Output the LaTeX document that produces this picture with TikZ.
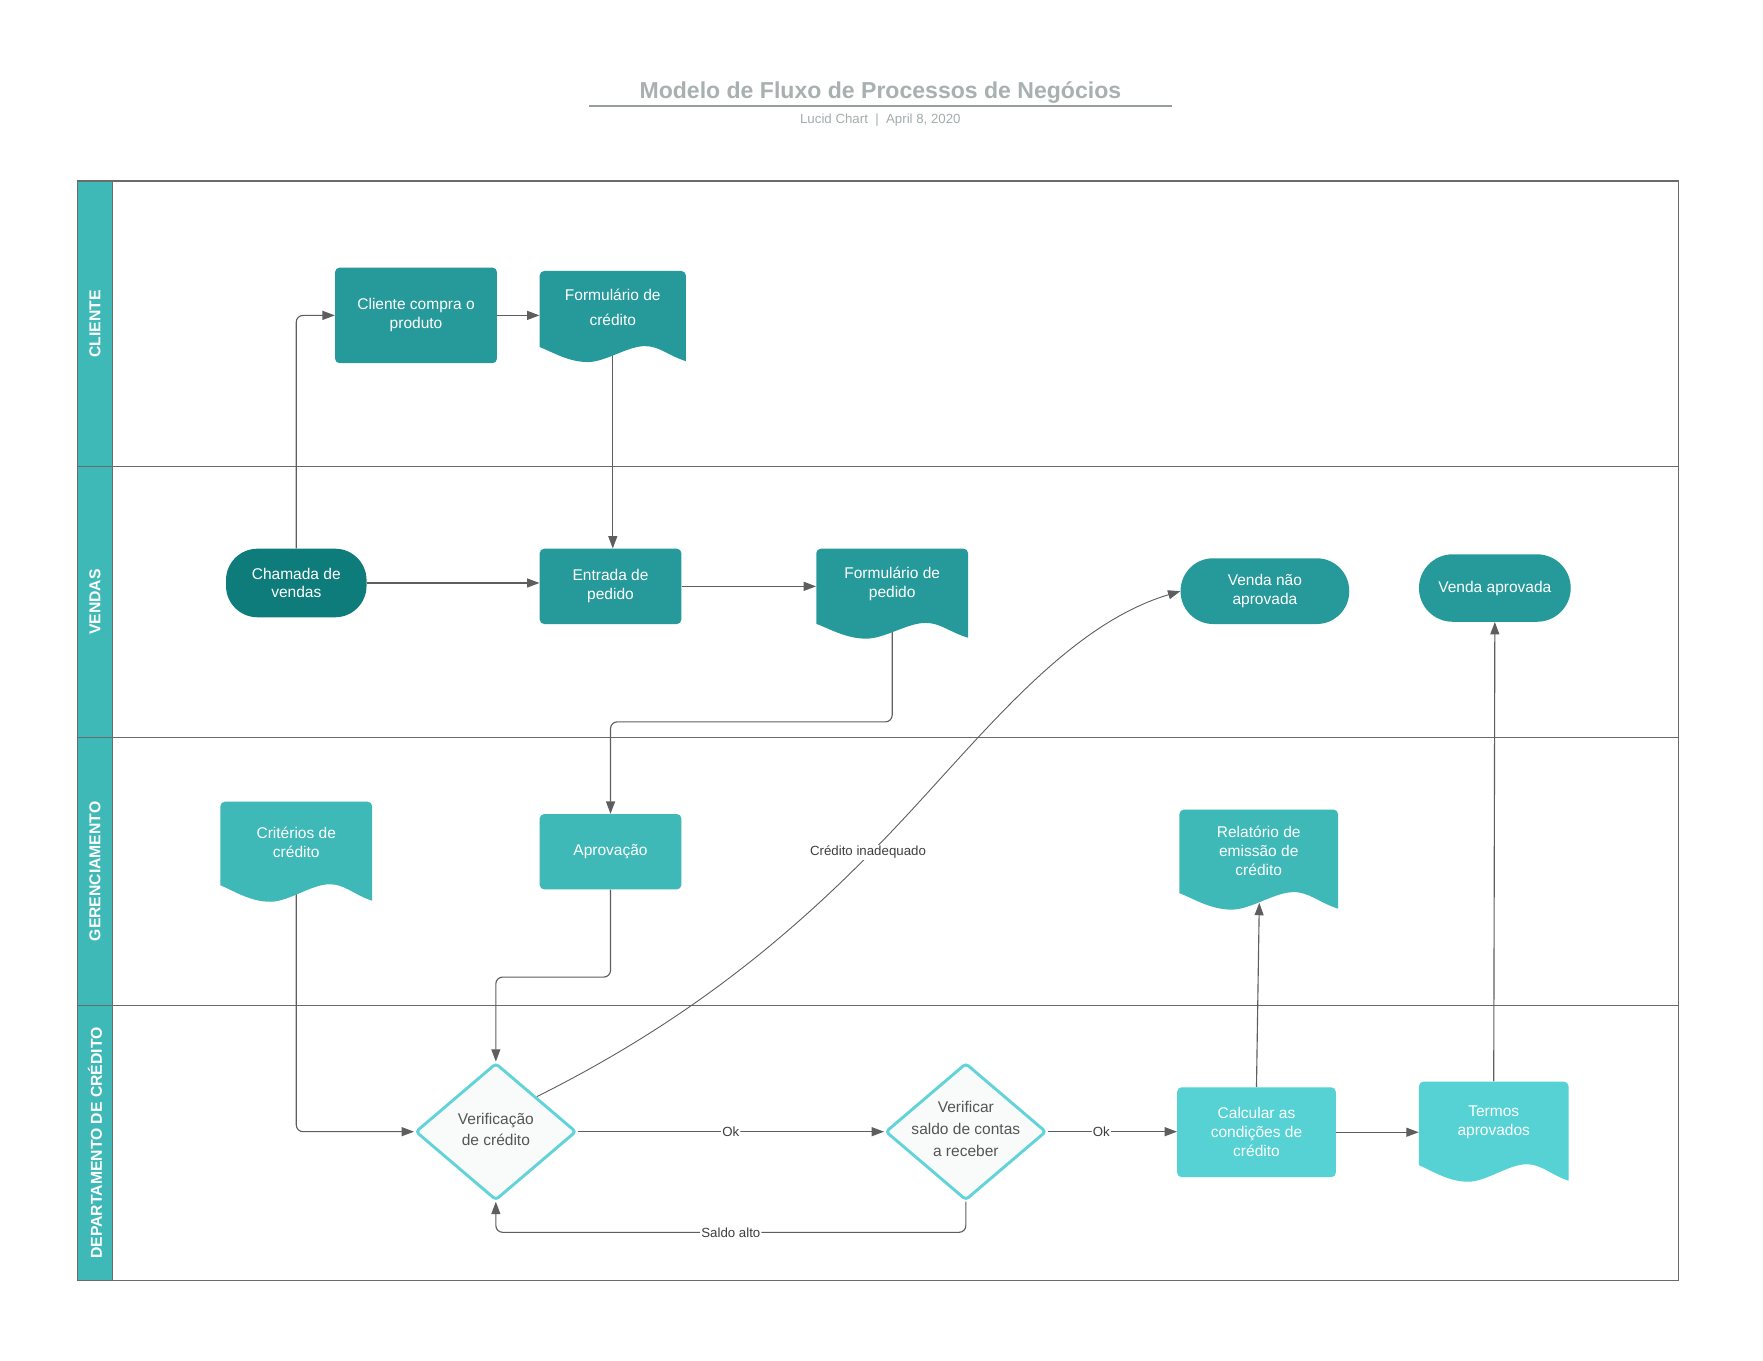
\documentclass[tikz,border=0pt]{standalone}
\usepackage{fontspec}
\setmainfont{Liberation Sans}
\usetikzlibrary{shapes.geometric,arrows.meta}
\pgfdeclarelayer{bg}
\pgfsetlayers{bg,main}
\definecolor{tdark}{HTML}{0E7C7B}
\definecolor{tmid}{HTML}{26999A}
\definecolor{tlight}{HTML}{3FB8B8}
\definecolor{tpale}{HTML}{56D2D4}
\definecolor{dstroke}{HTML}{62D3D9}
\definecolor{dfill}{HTML}{F9FBFB}
\definecolor{lineg}{HTML}{5E5E5E}
\definecolor{poolg}{HTML}{6B6B6B}
\definecolor{titleg}{HTML}{A9B0B0}
\definecolor{subg}{HTML}{A3ADAD}
\definecolor{lblg}{HTML}{3F3F3F}
\definecolor{dtext}{HTML}{555555}
\newcommand\fs[2]{\fontsize{#1}{#2}\selectfont}
% document shape: color, L, T, R, B
\newcommand\docshape[5]{%
  \fill[#1] (#2,{#3+0.835*(#5-#3)}) [rounded corners=4pt]-- (#2,#3) -- (#4,#3) [sharp corners]-- (#4,{#3+0.99*(#5-#3)})
   .. controls ({#2+0.88*(#4-#2)},{#3+0.93*(#5-#3)}) and ({#2+0.82*(#4-#2)},{#3+0.825*(#5-#3)}) .. ({#2+0.72*(#4-#2)},{#3+0.825*(#5-#3)})
   .. controls ({#2+0.6*(#4-#2)},{#3+0.825*(#5-#3)}) and ({#2+0.45*(#4-#2)},{#3+(#5-#3)}) .. ({#2+0.33*(#4-#2)},{#3+(#5-#3)})
   .. controls ({#2+0.2*(#4-#2)},{#3+(#5-#3)}) and ({#2+0.1*(#4-#2)},{#3+0.9*(#5-#3)}) .. cycle;}
% name, fill, L, T, R, B, text y, text
\newcommand\docnode[8]{%
  \docshape{#2}{#3}{#4}{#5}{#6}
  \node[inner sep=0, minimum width={(#5-#3)*1pt}, minimum height={(#6-#4)*1pt}] (#1) at ({(#3+#5)/2},{(#4+#6)/2}) {};
  \node[txt] (#1-t) at ({(#3+#5)/2},#7) {#8};}
\tikzset{
  txt/.style={align=center, text=white, font=\fs{13.8}{16.8}, inner sep=0},
  box/.style={txt, rounded corners=4pt, fill=tmid},
  dia/.style={diamond, draw=dstroke, fill=dfill, line width=2.6pt, rounded corners=3pt, inner sep=0},
  dtxt/.style={align=center, text=dtext, font=\fs{13.8}{19.2}, inner sep=0},
  conn/.style={draw=lineg, line width=1pt, rounded corners=6pt, -{Triangle[length=11pt,width=8pt]}},
  lbl/.style={fill=white, text=lblg, font=\fs{11.8}{14}, inner sep=1pt},
  lane/.style={rotate=90, text=white, font=\bfseries\fs{14}{16}},
}
\begin{document}
\begin{tikzpicture}[x=1pt,y=-1pt]
\useasboundingbox (0,0) rectangle (1568,1210);
% title
\node[text=titleg, font=\bfseries\fs{20.5}{24}] (title) at (783,82) {Modelo de Fluxo de Processos de Negócios};
\draw[draw=titleg!90!black, line width=1.6pt] (524,94) -- (1042,94);
\node[text=subg, font=\fs{11.8}{13}] (sub) at (783,106.5) {Lucid Chart\ \ |\ \ April 8, 2020};

% nodes
\node[box, fill=tmid, minimum width=144pt, minimum height=85pt] (cc) at (370,280.5) {Cliente compra o\\produto};
\docnode{fc}{tmid}{480}{241}{610}{322}{273.5}{Formulário de\\[6pt]crédito}
\node[box, fill=tdark, rounded corners=28pt, minimum width=125pt, minimum height=61pt] (cv) at (263.5,518.5) {Chamada de\\vendas};
\node[box, fill=tmid, minimum width=126pt, minimum height=67pt] (ep) at (543,521.5) {Entrada de\\pedido};
\docnode{fp}{tmid}{726}{488}{861}{568}{519}{Formulário de\\pedido}
\node[box, fill=tmid, rounded corners=29pt, minimum width=150pt, minimum height=58.5pt] (vn) at (1125,525.75) {Venda não\\aprovada};
\node[box, fill=tmid, rounded corners=30pt, minimum width=135pt, minimum height=60pt] (va) at (1329.5,523) {Venda aprovada};
\docnode{cr}{tlight}{196}{713}{331}{802}{749}{Critérios de\\crédito}
\node[box, fill=tlight, minimum width=126pt, minimum height=67pt] (ap) at (543,757.5) {Aprovação};
\docnode{rel}{tlight}{1049}{720}{1190}{809}{756.5}{Relatório de\\emissão de\\crédito}
\node[dia, minimum width=143pt, minimum height=122pt] (vc) at (441,1006.5) {};
\node[dtxt] (vc-t) at (441,1004.5) {Verificação\\de crédito};
\node[dia, minimum width=143pt, minimum height=122pt] (vs) at (859,1006.5) {};
\node[dtxt] (vs-t) at (859,1004) {Verificar\\saldo de contas\\a receber};
\node[box, fill=tpale, minimum width=141pt, minimum height=80pt] (cal) at (1117.5,1007) {Calcular as\\condições de\\crédito};
\docnode{ta}{tpale}{1262}{962}{1395}{1051}{998}{Termos\\aprovados}
\coordinate (rel-b) at (1120,803);
\coordinate (cim) at (770,763);

\begin{pgfonlayer}{bg}
\fill[white] (0,0) rectangle (1568,1210);
% pool
\draw[poolg, line width=1pt] (69,161) rectangle (1493,1139);
\draw[poolg, line width=1pt, fill=tlight] (69,161) rectangle (100,1139);
\foreach \yy in {415,656,894} \draw[poolg, line width=1pt] (69,\yy) -- (1493,\yy);
\node[lane] (l1) at (84.5,288) {CLIENTE};
\node[lane] (l2) at (84.5,535.5) {VENDAS};
\node[lane] (l3) at (84.5,775) {GERENCIAMENTO};
\node[lane] (l4) at (84.5,1016.5) {DEPARTAMENTO DE CRÉDITO};
% connectors
\draw[conn] (cv.north) |- (cc.west);
\draw[conn] (cc.east) -- (cc.east -| fc.west);
\draw[conn] (fc.center) -- (fc.center |- ep.north);
\draw[conn] (cv.east) -- (cv.east -| ep.west);
\draw[conn] (ep.east) -- (ep.east -| fp.west);
\draw[conn] (fp.center) -- (fp.center |- 0,642) -| (ap.north);
\draw[conn] (ap.south) -- (ap.south |- 0,869) -| (vc.north);
\draw[conn] (cr.center) |- (vc.west);
\draw[conn] (vc.east) -- (vs.west) node[lbl, pos=0.5] {Ok};
\draw[conn] (vs.south) -- (vs.south |- 0,1096) -- (vc.south |- 0,1096) node[lbl, pos=0.5] {Saldo alto} -- (vc.south);
\draw[conn] (vs.east) -- (vs.east -| cal.west) node[lbl, pos=0.415] {Ok};
\draw[conn] (cal.east) -- (cal.east -| ta.west);
\draw[conn] (cal.north) -- (rel-b);
\draw[conn] (ta.north) -- (va.south);
\draw[conn, line width=0.8pt] (vc.north east) .. controls +(100,-50) and +(-100,100) .. (cim)
   .. controls +(90,-90) and +(-110,33) .. (vn.west);
\node[lbl] (ci) at (772,758) {Crédito inadequado};
\end{pgfonlayer}
\end{tikzpicture}
\end{document}
